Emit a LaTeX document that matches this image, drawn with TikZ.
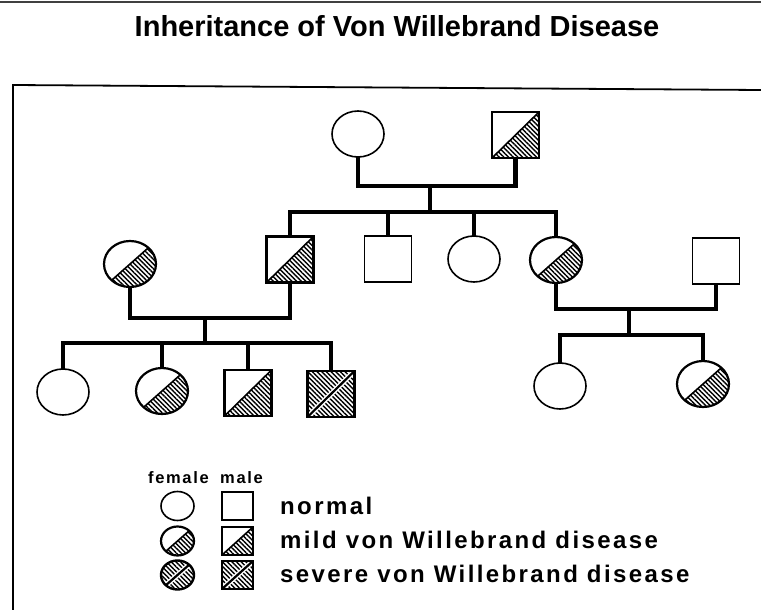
\documentclass[tikz,border=0pt]{standalone}
\usepackage{fontspec}
\setmainfont{Liberation Sans}
\newfontfamily\legendfont{Liberation Sans}[LetterSpace=10]
\usetikzlibrary{shapes.geometric,patterns.meta}

\tikzset{
hatch/.style={pattern={Lines[angle=-45,distance=3.3pt,line width=1.4pt]}},
female/.style={ellipse, draw, line width=1.6pt, minimum width=52pt, minimum height=46pt, inner sep=0pt, outer sep=0pt},
male/.style={rectangle, draw, line width=1.8pt, minimum width=47pt, minimum height=46pt, inner sep=0pt, outer sep=0pt},
keysym/.style={minimum width=33pt, minimum height=29pt},
mild/.style={line width=2.2pt, path picture={
  \fill[hatch] (path picture bounding box.south west) -- (path picture bounding box.south east)
    -- (path picture bounding box.north east) -- cycle;
  \draw[line width=1.6pt] (path picture bounding box.south west) -- (path picture bounding box.north east);}},
severe/.style={line width=2.4pt, path picture={
  \fill[hatch] (path picture bounding box.south west) rectangle (path picture bounding box.north east);
  \draw[white, line width=5pt] (path picture bounding box.south west) -- (path picture bounding box.north east);
  \draw[line width=2.2pt] (path picture bounding box.south west) -- (path picture bounding box.north east);}},
link/.style={line width=4.6pt, line join=miter},
keytext/.style={anchor=base west, inner sep=0pt, font=\legendfont\bfseries\fontsize{24}{28}\selectfont},
sextext/.style={anchor=base west, inner sep=0pt, font=\legendfont\bfseries\fontsize{16.5}{18}\selectfont}
}

\begin{document}
\begin{tikzpicture}[x=1pt,y=-1pt]
\useasboundingbox (0,0) rectangle (761,610);

\draw [line width=2.5pt, black!75] (0,2)--(761,2);
\node [anchor=base, inner sep=0pt, font=\bfseries\fontsize{29}{34}\selectfont] (title) at (397,37) {Inheritance of Von Willebrand Disease};

\draw [line width=1.8pt] (13,610)--(13,85)--(761,90);

\node [female] (gm) at (358,134) {};
\node [male, mild] (gf) at (515.5,135) {};

\node [male, mild] (s1) at (290,259.5) {};
\node [male] (s2) at (388,259) {};
\node [female] (s3) at (474,259) {};
\node [female, mild] (s4) at (556,260) {};
\node [female, mild] (w1) at (130,264) {};
\node [male] (h2) at (716,261) {};

\node [female] (c1) at (63,392) {};
\node [female, mild] (c2) at (162,391) {};
\node [male, mild] (c3) at (248,393) {};
\node [male, severe] (c4) at (331,394) {};
\node [female] (d1) at (560,386) {};
\node [female, mild] (d2) at (703,384) {};

\coordinate (mI) at (430,186);
\coordinate (sI) at (430,212);
\draw [link] (gm.south) |- (mI) -| (gf.south);
\draw [link] (mI)--(sI);
\draw [link] (s1.north) |- (sI) -| (s4.north);
\draw [link] (s2.north)--(s2.north |- sI);
\draw [link] (s3.north)--(s3.north |- sI);

\coordinate (mL) at (205,318);
\coordinate (sL) at (205,343);
\draw [link] (w1.south) |- (mL) -| (s1.south);
\draw [link] (mL)--(sL);
\draw [link] (c1.north) |- (sL) -| (c4.north);
\draw [link] (c2.north)--(c2.north |- sL);
\draw [link] (c3.north)--(c3.north |- sL);

\coordinate (mR) at (629,309);
\coordinate (sR) at (629,335);
\draw [link] (s4.south) |- (mR) -| (h2.south);
\draw [link] (mR)--(sR);
\draw [link] (d1.north) |- (sR) -| (d2.north);

\node [sextext] (fem) at (148,483) {female};
\node [sextext] (mal) at (220,483) {male};

\node [female, keysym] (kf1) at (177.5,506) {};
\node [male, keysym, minimum width=31pt, minimum height=28pt] (km1) at (237.5,506) {};
\node [female, keysym, mild] (kf2) at (177.5,541) {};
\node [male, keysym, mild, minimum width=31pt, minimum height=28pt] (km2) at (237.5,541) {};
\node [female, keysym, severe] (kf3) at (177.5,575) {};
\node [male, keysym, severe, minimum width=31pt, minimum height=28pt] (km3) at (237.5,575) {};

\node [keytext] (normal) at (280,514) {normal};
\node [keytext] (mildtext) at (280,548) {mild von Willebrand disease};
\node [keytext] (severetext) at (280,582) {severe von Willebrand disease};
\end{tikzpicture}
\end{document}
